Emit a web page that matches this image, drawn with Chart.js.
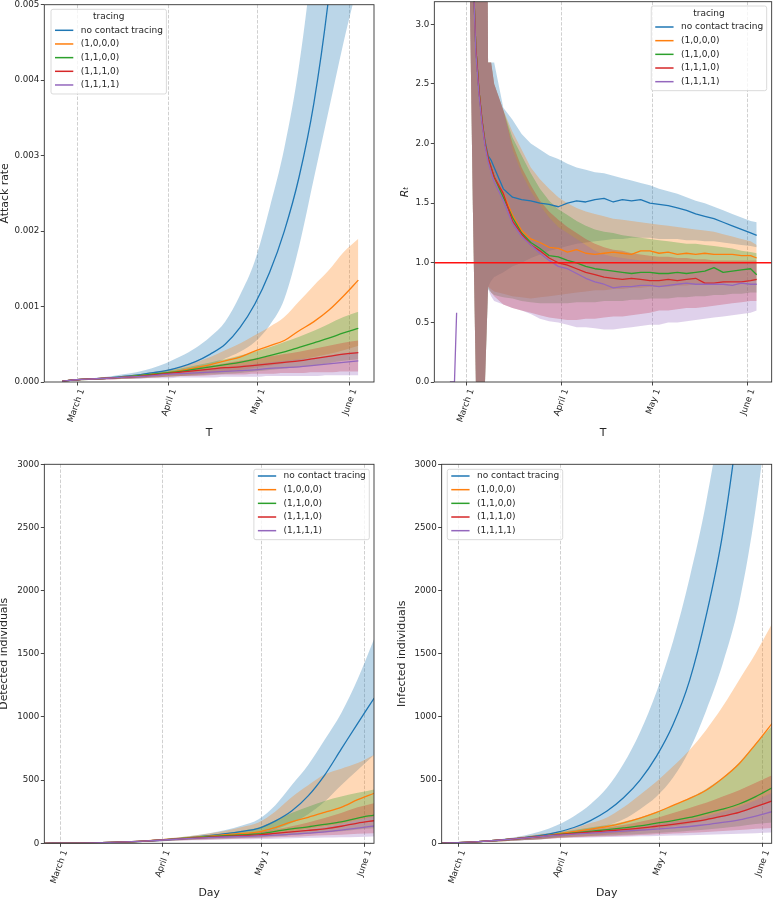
<!DOCTYPE html>
<html><head><meta charset="utf-8">
<script src="https://cdn.jsdelivr.net/npm/chart.js@4.4.1/dist/chart.umd.min.js"></script>
<style>
html,body{margin:0;padding:0;background:#fff;}
#wrap{position:relative;width:773px;height:899px;overflow:hidden;background:#fff;}
.p{position:absolute;}
canvas{display:block;}
</style></head><body>
<div id="wrap">
<div class="p" style="left:0;top:0;width:390px;height:450px"><canvas id="c1" width="390" height="450"></canvas></div>
<div class="p" style="left:390px;top:0;width:383px;height:450px"><canvas id="c2" width="383" height="450"></canvas></div>
<div class="p" style="left:0;top:450px;width:390px;height:449px"><canvas id="c3" width="390" height="449"></canvas></div>
<div class="p" style="left:390px;top:450px;width:383px;height:449px"><canvas id="c4" width="383" height="449"></canvas></div>
</div>
<script>
// ---------- labels & ticks ----------
const seriesLabels = ['no contact tracing', '(1,0,0,0)', '(1,1,0,0)', '(1,1,1,0)', '(1,1,1,1)'];
const seriesColors = ['#1f77b4', '#ff7f0e', '#2ca02c', '#d62728', '#9467bd'];
const bandColors = ['rgba(31,119,180,0.3)', 'rgba(255,127,14,0.3)', 'rgba(44,160,44,0.3)', 'rgba(214,39,40,0.3)', 'rgba(148,103,189,0.3)'];
const dateTickDays = [0, 31, 61, 92];               // days since March 1
const dateTickLabels = ['March 1', 'April 1', 'May 1', 'June 1'];
const attackTicks = [0, 0.001, 0.002, 0.003, 0.004, 0.005];
const attackTickLabels = ['0.000', '0.001', '0.002', '0.003', '0.004', '0.005'];
const rtTicks = [0, 0.5, 1, 1.5, 2, 2.5, 3];
const rtTickLabels = ['0.0', '0.5', '1.0', '1.5', '2.0', '2.5', '3.0'];
const countTicks = [0, 500, 1000, 1500, 2000, 2500, 3000];
const countTickLabels = ['0', '500', '1000', '1500', '2000', '2500', '3000'];
const rtThreshold = 1.0;

// ---------- day grids ----------
const days5 = [-5, 0, 5, 10, 15, 20, 25, 30, 35, 40, 45, 50, 55, 60, 65, 70, 75, 80, 85, 90, 95];
const rtDays = [-5.5, -4, -3.3, -3, 1, 2, 3, 4, 5, 6, 7, 8, 9, 12, 15, 18, 21, 24, 27, 30, 33, 36, 39, 42, 45, 48, 51, 54, 57, 60, 63, 66, 69, 72, 75, 78, 81, 84, 87, 90, 93, 95];

// ---------- Attack rate ----------
const attackMeanNone = [0.00001,0.00003,0.00004,0.00005,0.00007,0.00009,0.00012,0.00015,0.0002,0.00027,0.00037,0.0005,0.00072,0.00103,0.00145,0.002,0.00272,0.0037,0.0051,0.007,0.0096];
const attackUpNone = [0.00002,0.00004,0.00005,0.00007,0.0001,0.00013,0.00018,0.00025,0.00034,0.00045,0.0006,0.0008,0.00115,0.0016,0.0023,0.0031,0.0042,0.0058,0.008,0.011,0.015];
const attackLowNone = [0.00001,0.00002,0.00003,0.00004,0.00005,0.00006,0.00008,0.0001,0.00013,0.00017,0.00022,0.00031,0.0004,0.00053,0.00075,0.0011,0.0018,0.0027,0.0036,0.0045,0.0053];
const attackMean1000 = [0.00001,0.00003,0.00004,0.00005,0.00006,0.00008,0.0001,0.00012,0.00015,0.00019,0.00023,0.00028,0.00033,0.00041,0.00048,0.00055,0.00068,0.0008,0.00095,0.00114,0.00135];
const attackUp1000 = [0.00002,0.00004,0.00005,0.00006,0.00008,0.0001,0.00013,0.00016,0.0002,0.00026,0.00033,0.00042,0.00051,0.00062,0.00073,0.00086,0.00107,0.00128,0.00148,0.00172,0.0019];
const attackLow1000 = [0.00001,0.00002,0.00003,0.00004,0.00004,0.00005,0.00006,0.00007,0.00008,0.0001,0.00012,0.00014,0.00016,0.00019,0.00022,0.00025,0.00029,0.00033,0.00037,0.00042,0.00048];
const attackMean1100 = [0.00001,0.00003,0.00004,0.00005,0.00006,0.00008,0.0001,0.00012,0.00014,0.00017,0.0002,0.00023,0.00026,0.0003,0.00035,0.0004,0.00046,0.00052,0.00058,0.00065,0.00071];
const attackUp1100 = [0.00002,0.00004,0.00005,0.00006,0.00008,0.0001,0.00012,0.00015,0.00018,0.00022,0.00026,0.0003,0.00035,0.0004,0.00046,0.00053,0.0006,0.00068,0.00077,0.00086,0.00093];
const attackLow1100 = [0.00001,0.00002,0.00003,0.00004,0.00004,0.00005,0.00006,0.00007,0.00008,0.00009,0.0001,0.00011,0.00012,0.00014,0.00016,0.00018,0.0002,0.00022,0.00025,0.00028,0.0003];
const attackMean1110 = [0.00001,0.00003,0.00004,0.00005,0.00006,0.00007,0.00009,0.00011,0.00013,0.00015,0.00017,0.00019,0.0002,0.00022,0.00024,0.00026,0.00028,0.00031,0.00034,0.00037,0.00039];
const attackUp1110 = [0.00002,0.00004,0.00005,0.00006,0.00007,0.00009,0.00011,0.00013,0.00016,0.00019,0.00022,0.00025,0.00028,0.00031,0.00034,0.00037,0.0004,0.00044,0.00048,0.00052,0.00055];
const attackLow1110 = [0.00001,0.00002,0.00003,0.00003,0.00004,0.00005,0.00006,0.00007,0.00008,0.00008,0.00009,0.0001,0.0001,0.00011,0.00011,0.00012,0.00012,0.00013,0.00013,0.00014,0.00014];
const attackMean1111 = [0.00001,0.00003,0.00004,0.00005,0.00006,0.00007,0.00008,0.0001,0.00011,0.00012,0.00013,0.00014,0.00015,0.00016,0.00018,0.00019,0.0002,0.00022,0.00024,0.00026,0.00028];
const attackUp1111 = [0.00002,0.00004,0.00005,0.00006,0.00007,0.00008,0.0001,0.00012,0.00014,0.00016,0.00018,0.0002,0.00022,0.00024,0.00026,0.00028,0.0003,0.00032,0.00035,0.00038,0.0004];
const attackLow1111 = [0.00001,0.00002,0.00003,0.00003,0.00004,0.00004,0.00005,0.00005,0.00006,0.00006,0.00006,0.00007,0.00007,0.00007,0.00008,0.00008,0.00008,0.00008,0.00009,0.00009,0.00009];

// ---------- R_t ----------
const rtMeanNone = [null,null,null,null,null,3.5,2.8,2.45,2.2,2.02,1.9,1.86,1.8,1.62,1.55,1.53,1.52,1.5,1.49,1.47,1.5,1.52,1.51,1.53,1.54,1.51,1.53,1.52,1.53,1.5,1.49,1.48,1.46,1.44,1.41,1.39,1.37,1.34,1.31,1.28,1.25,1.23];
const rtUpNone = [null,null,null,null,8,8,8,8,8,8,2.68,2.68,2.68,2.3,2.2,2.08,2.0,1.95,1.9,1.87,1.83,1.8,1.78,1.76,1.75,1.73,1.71,1.69,1.67,1.65,1.62,1.6,1.58,1.55,1.52,1.5,1.47,1.44,1.41,1.38,1.35,1.34];
const rtLowNone = [null,null,null,null,3.3,1.5,0,0,0,0,0.8,0.85,0.88,0.92,0.97,1.0,1.04,1.07,1.1,1.12,1.14,1.16,1.17,1.18,1.19,1.2,1.2,1.21,1.21,1.21,1.2,1.2,1.2,1.19,1.19,1.18,1.18,1.17,1.16,1.15,1.14,1.13];
const rtMean1000 = [null,null,null,null,null,3.5,2.8,2.45,2.2,2.0,1.88,1.8,1.72,1.58,1.4,1.27,1.2,1.17,1.13,1.12,1.09,1.11,1.08,1.07,1.08,1.09,1.08,1.07,1.1,1.1,1.08,1.09,1.07,1.08,1.07,1.08,1.07,1.07,1.07,1.06,1.06,1.04];
const rtUp1000 = [null,null,null,null,8,8,8,8,8,8,2.68,2.68,2.5,2.28,2.1,1.95,1.8,1.7,1.62,1.55,1.5,1.46,1.43,1.41,1.39,1.37,1.36,1.35,1.34,1.33,1.32,1.31,1.3,1.29,1.28,1.27,1.26,1.24,1.22,1.2,1.18,1.15];
const rtLow1000 = [null,null,null,null,3.3,1.5,0,0,0,0,0.8,0.78,0.76,0.74,0.72,0.71,0.7,0.71,0.72,0.73,0.74,0.75,0.76,0.77,0.77,0.78,0.78,0.79,0.79,0.8,0.8,0.8,0.81,0.81,0.82,0.82,0.83,0.83,0.84,0.84,0.85,0.85];
const rtMean1100 = [null,null,null,null,null,3.5,2.8,2.45,2.2,2.0,1.88,1.8,1.72,1.55,1.38,1.25,1.17,1.12,1.06,1.05,1.02,1.0,0.97,0.95,0.94,0.93,0.92,0.91,0.92,0.92,0.91,0.91,0.92,0.91,0.92,0.93,0.96,0.92,0.93,0.94,0.95,0.9];
const rtUp1100 = [null,null,null,null,8,8,8,8,8,8,2.68,2.68,2.5,2.28,2.05,1.9,1.75,1.62,1.52,1.45,1.4,1.35,1.31,1.28,1.26,1.25,1.23,1.22,1.21,1.2,1.19,1.18,1.17,1.16,1.16,1.15,1.14,1.13,1.12,1.1,1.09,1.08];
const rtLow1100 = [null,null,null,null,3.3,1.5,0,0,0,0,0.78,0.75,0.73,0.71,0.7,0.68,0.67,0.66,0.66,0.66,0.66,0.67,0.67,0.67,0.68,0.68,0.68,0.69,0.69,0.7,0.7,0.7,0.71,0.71,0.72,0.72,0.73,0.73,0.74,0.74,0.75,0.75];
const rtMean1110 = [null,null,null,null,null,3.5,2.8,2.45,2.2,2.0,1.88,1.8,1.72,1.58,1.35,1.24,1.15,1.1,1.04,1.0,0.98,0.95,0.92,0.9,0.88,0.87,0.86,0.87,0.86,0.85,0.85,0.86,0.85,0.86,0.87,0.83,0.83,0.84,0.84,0.84,0.85,0.86];
const rtUp1110 = [null,null,null,null,8,8,8,8,8,8,2.68,2.68,2.5,2.28,2.0,1.8,1.65,1.52,1.43,1.36,1.3,1.25,1.2,1.16,1.13,1.11,1.1,1.08,1.07,1.06,1.05,1.05,1.04,1.04,1.03,1.03,1.02,1.02,1.02,1.02,1.02,1.02];
const rtLow1110 = [null,null,null,null,3.3,1.5,0,0,0,0,0.8,0.75,0.72,0.65,0.62,0.6,0.58,0.56,0.54,0.53,0.52,0.52,0.53,0.53,0.54,0.55,0.55,0.56,0.57,0.58,0.6,0.6,0.61,0.62,0.62,0.63,0.64,0.65,0.66,0.67,0.68,0.68];
const rtMean1111 = [0,0,0.58,null,null,3.5,2.76,2.42,2.17,1.98,1.85,1.76,1.68,1.52,1.33,1.22,1.15,1.08,1.02,0.97,0.95,0.91,0.87,0.84,0.82,0.79,0.8,0.8,0.81,0.81,0.8,0.81,0.82,0.83,0.82,0.82,0.82,0.82,0.81,0.83,0.82,0.82];
const rtUp1111 = [null,null,null,null,8,8,8,8,8,8,2.68,2.68,2.5,2.28,1.95,1.75,1.6,1.48,1.38,1.3,1.25,1.2,1.15,1.1,1.07,1.05,1.04,1.03,1.02,1.02,1.01,1.01,1.0,1.0,1.0,1.0,1.0,1.0,1.0,1.0,1.0,1.0];
const rtLow1111 = [null,null,null,null,3.3,1.5,0,0,0,0,0.78,0.72,0.68,0.65,0.62,0.6,0.57,0.53,0.51,0.5,0.48,0.46,0.46,0.45,0.44,0.44,0.45,0.46,0.47,0.48,0.48,0.5,0.5,0.51,0.52,0.53,0.54,0.55,0.56,0.57,0.58,0.6];

// ---------- Detected individuals ----------
const detMeanNone = [0,1,2,4,7,11,16,24,34,46,60,76,95,118,175,255,375,540,745,950,1150];
const detUpNone = [0,2,3,6,10,15,21,31,44,60,80,105,140,190,300,460,620,820,1030,1300,1620];
const detLowNone = [0,0,1,2,4,7,11,17,24,32,42,52,65,80,110,160,230,330,460,580,700];
const detMean1000 = [0,1,2,4,7,11,17,26,36,46,57,68,78,90,125,170,206,245,285,345,396];
const detUp1000 = [0,2,3,6,10,15,22,32,45,60,78,100,130,165,250,365,460,545,590,635,700];
const detLow1000 = [0,0,1,2,4,7,11,18,25,32,38,45,52,58,75,95,115,135,155,185,210];
const detMean1100 = [0,1,2,4,7,11,17,25,34,43,52,60,67,74,95,115,130,150,170,200,224];
const detUp1100 = [0,2,3,5,9,14,21,30,41,53,66,80,100,125,180,240,290,335,370,400,427];
const detLow1100 = [0,0,1,2,4,7,11,17,23,29,34,38,42,46,55,65,75,85,95,110,120];
const detMean1110 = [0,1,2,4,7,11,17,25,33,41,48,55,61,66,78,90,102,115,135,160,179];
const detUp1110 = [0,2,3,5,9,14,20,29,39,48,57,66,76,88,110,135,165,200,240,285,317];
const detLow1110 = [0,0,1,2,4,7,11,17,22,27,31,35,38,41,47,52,58,63,68,75,80];
const detMean1111 = [0,1,2,4,7,11,17,24,32,39,45,50,54,58,64,72,80,90,105,120,137];
const detUp1111 = [0,2,3,5,8,13,20,28,37,45,52,58,64,70,82,95,110,130,155,185,215];
const detLow1111 = [0,0,1,2,4,6,10,15,20,24,27,30,32,34,37,40,43,45,48,50,53];

// ---------- Infected individuals ----------
const infMeanNone = [2,6,12,20,30,44,62,88,125,180,255,360,500,690,940,1290,1800,2450,3400,4700,6500];
const infUpNone = [3,8,15,26,40,62,95,145,215,310,440,630,880,1200,1600,2100,2700,3500,4700,6400,8800];
const infLowNone = [1,4,8,14,20,27,36,50,70,100,140,190,270,370,520,740,1050,1420,1900,2650,3700];
const infMean1000 = [2,6,12,20,30,42,55,74,92,112,133,162,200,245,300,355,420,515,630,785,950];
const infUp1000 = [3,8,15,25,38,55,75,92,120,160,205,285,385,490,610,739,897,1082,1293,1504,1740];
const infLow1000 = [1,4,8,13,19,26,33,42,50,60,70,82,98,115,135,155,180,210,245,290,340];
const infMean1100 = [2,6,12,20,30,42,54,70,82,95,108,122,138,160,180,205,237,270,311,370,440];
const infUp1100 = [3,8,15,25,38,52,70,85,105,125,145,170,205,250,300,360,430,520,640,790,930];
const infLow1100 = [1,4,8,13,19,26,33,45,52,57,62,68,74,82,90,100,110,122,135,152,165];
const infMean1110 = [2,6,12,20,30,42,54,68,78,88,98,108,120,135,150,168,188,215,245,290,335];
const infUp1110 = [3,8,15,25,37,50,66,80,95,110,125,145,170,200,240,280,320,370,420,480,540];
const infLow1110 = [1,4,8,13,19,26,32,42,48,52,56,60,66,72,78,84,90,98,105,115,122];
const infMean1111 = [2,6,12,20,30,42,53,65,73,80,88,96,104,112,122,133,147,165,185,215,250];
const infUp1111 = [3,8,15,24,36,49,64,75,86,95,105,115,130,150,170,190,215,250,290,340,400];
const infLow1111 = [1,4,8,13,18,24,30,40,43,46,49,52,55,58,61,64,68,72,76,80,85];

// ---------- helpers ----------
const FONT = '"DejaVu Sans", "Liberation Sans", sans-serif';
const TXT = '#262626';
function pts(days, vals) { return days.map((d, i) => ({ x: d, y: vals[i] })); }

function buildSets(days, means, lows, ups, smooth) {
  const interp = smooth ? 'monotone' : 'default';
  const ds = [];
  for (let k = 0; k < means.length; k++) {
    ds.push({ label: seriesLabels[k] + ' low', data: pts(days, lows[k]), borderColor: 'rgba(0,0,0,0)', borderWidth: 0,
      pointRadius: 0, fill: false, order: 4 - k, cubicInterpolationMode: interp, spanGaps: false });
    ds.push({ label: seriesLabels[k] + ' band', data: pts(days, ups[k]), borderColor: 'rgba(0,0,0,0)', borderWidth: 0,
      pointRadius: 0, fill: '-1', backgroundColor: bandColors[k], order: 4 - k, cubicInterpolationMode: interp, spanGaps: false });
  }
  for (let k = 0; k < means.length; k++) {
    ds.push({ label: seriesLabels[k], data: pts(days, means[k]), borderColor: seriesColors[k], borderWidth: 1.3,
      pointRadius: 0, fill: false, order: 4 - k, cubicInterpolationMode: interp, spanGaps: false });
  }
  return ds;
}

function xScale(min, max, title, height, padBottom) {
  return {
    type: 'linear', min: min, max: max,
    afterBuildTicks: s => { s.ticks = dateTickDays.map(v => ({ value: v })); },
    afterFit: s => { s.height = height; s.paddingLeft = 0; s.paddingRight = 0; s.paddingTop = 0; s.paddingBottom = 0; },
    ticks: { autoSkip: false, minRotation: 70, maxRotation: 70, padding: 2, labelOffset: 5, color: TXT,
      font: { family: FONT, size: 8.7 }, callback: (v, i) => dateTickLabels[i] },
    grid: { display: true, drawOnChartArea: true, color: '#c4c4c4', lineWidth: 0.8, drawTicks: true,
      tickLength: 3.5, tickColor: '#333', tickWidth: 0.9, tickBorderDash: [] },
    border: { display: false, dash: [3.5, 1.6] },
    title: { display: true, text: title, color: TXT, font: { family: FONT, size: 10.9 }, padding: { top: 0, bottom: padBottom } }
  };
}

function yScale(max, ticks, labels, title, width, padTop, italic) {
  return {
    type: 'linear', min: 0, max: max,
    afterBuildTicks: s => { s.ticks = ticks.map(v => ({ value: v })); },
    afterFit: s => { s.width = width; s.paddingLeft = 0; s.paddingRight = 0; s.paddingTop = 0; s.paddingBottom = 0; },
    ticks: { padding: 1.5, color: TXT, font: { family: FONT, size: 8.7 }, callback: (v, i) => labels[i] },
    grid: { display: true, drawOnChartArea: false, drawTicks: true, tickLength: 3.5, tickColor: '#333', tickWidth: 0.9 },
    border: { display: false },
    title: { display: true, text: title, color: TXT, font: { family: FONT, size: 10.9, style: italic ? 'italic' : 'normal' },
      padding: { top: padTop, bottom: 0 } }
  };
}

const framePlugin = {
  id: 'frame',
  afterDraw(chart) {
    const a = chart.chartArea, ctx = chart.ctx;
    ctx.save();
    ctx.strokeStyle = '#333'; ctx.lineWidth = 0.9;
    ctx.strokeRect(a.left, a.top, a.right - a.left, a.bottom - a.top);
    ctx.restore();
  }
};

const legendPlugin = {
  id: 'mplLegend',
  afterDraw(chart, args, o) {
    if (!o || !o.show) return;
    const ctx = chart.ctx, a = chart.chartArea;
    ctx.save();
    ctx.font = '9px ' + FONT;
    let tw = 0;
    seriesLabels.forEach(s => { tw = Math.max(tw, ctx.measureText(s).width); });
    const rowH = 13.67, first = o.title ? 21 : 6.7;
    const w = 29.7 + tw + 3.5;
    const h = first + rowH * (seriesLabels.length - 1) + 9;
    const x0 = o.corner === 'tl' ? a.left + o.dx : a.right - o.dx - w;
    const y0 = a.top + o.dy;
    const r = 2;
    ctx.beginPath();
    ctx.moveTo(x0 + r, y0); ctx.lineTo(x0 + w - r, y0); ctx.quadraticCurveTo(x0 + w, y0, x0 + w, y0 + r);
    ctx.lineTo(x0 + w, y0 + h - r); ctx.quadraticCurveTo(x0 + w, y0 + h, x0 + w - r, y0 + h);
    ctx.lineTo(x0 + r, y0 + h); ctx.quadraticCurveTo(x0, y0 + h, x0, y0 + h - r);
    ctx.lineTo(x0, y0 + r); ctx.quadraticCurveTo(x0, y0, x0 + r, y0);
    ctx.closePath();
    ctx.fillStyle = 'rgba(255,255,255,0.8)'; ctx.fill();
    ctx.strokeStyle = '#d0d0d0'; ctx.lineWidth = 0.8; ctx.stroke();
    ctx.textBaseline = 'middle';
    ctx.fillStyle = TXT;
    if (o.title) { ctx.textAlign = 'center'; ctx.fillText(o.title, x0 + w / 2, y0 + 7.4); }
    ctx.textAlign = 'left';
    seriesLabels.forEach((s, k) => {
      const y = y0 + first + k * rowH;
      ctx.strokeStyle = seriesColors[k]; ctx.lineWidth = 1.5;
      ctx.beginPath(); ctx.moveTo(x0 + 4, y); ctx.lineTo(x0 + 22.3, y); ctx.stroke();
      ctx.fillStyle = TXT; ctx.fillText(s, x0 + 29.7, y);
    });
    ctx.restore();
  }
};

function makeChart(id, datasets, padding, xs, ys, legend) {
  return new Chart(document.getElementById(id), {
    type: 'line',
    data: { datasets: datasets },
    options: {
      responsive: false, animation: false, events: [],
      layout: { autoPadding: false, padding: padding },
      plugins: { legend: { display: false }, tooltip: { enabled: false },
        filler: { drawTime: 'beforeDatasetsDraw', propagate: false }, mplLegend: legend },
      elements: { point: { radius: 0 }, line: { borderJoinStyle: 'round' } },
      scales: { x: xs, y: ys }
    },
    plugins: [framePlugin, legendPlugin]
  });
}

Chart.defaults.font.family = FONT;

// ---------- Panel 1: Attack rate ----------
makeChart('c1',
  buildSets(days5,
    [attackMeanNone, attackMean1000, attackMean1100, attackMean1110, attackMean1111],
    [attackLowNone, attackLow1000, attackLow1100, attackLow1110, attackLow1111],
    [attackUpNone, attackUp1000, attackUp1100, attackUp1110, attackUp1111], true),
  { left: 0, top: 4.7, right: 16, bottom: 0 },
  xScale(-11.1, 100.3, 'T', 68, 10.5),
  yScale(0.005, attackTicks, attackTickLabels, 'Attack rate', 44.3, -1.5, false),
  { show: true, corner: 'tl', dx: 6.7, dy: 4.6, title: 'tracing' });

// ---------- Panel 2: R_t ----------
const rtXMin = -10.6, rtXMax = 99.9;
const rtSets = buildSets(rtDays,
  [rtMeanNone, rtMean1000, rtMean1100, rtMean1110, rtMean1111],
  [rtLowNone, rtLow1000, rtLow1100, rtLow1110, rtLow1111],
  [rtUpNone, rtUp1000, rtUp1100, rtUp1110, rtUp1111], false);
rtSets.push({ label: 'threshold', data: [{ x: rtXMin, y: rtThreshold }, { x: rtXMax, y: rtThreshold }],
  borderColor: '#ff1010', borderWidth: 1.4, pointRadius: 0, fill: false, order: -1 });
makeChart('c2', rtSets,
  { left: 0, top: 1.7, right: 1.33, bottom: 0 },
  xScale(rtXMin, rtXMax, 'T', 68, 10.5),
  yScale(3.19, rtTicks, rtTickLabels, 'R\u209C', 44.33, 8.5, true),
  { show: true, corner: 'tr', dx: 5, dy: 4.3, title: 'tracing' });

// ---------- Panel 3: Detected ----------
makeChart('c3',
  buildSets(days5,
    [detMeanNone, detMean1000, detMean1100, detMean1110, detMean1111],
    [detLowNone, detLow1000, detLow1100, detLow1110, detLow1111],
    [detUpNone, detUp1000, detUp1100, detUp1110, detUp1111], true),
  { left: 0, top: 14.3, right: 16, bottom: 0 },
  xScale(-4.84, 94.93, 'Day', 55.7, -0.8),
  yScale(3000, countTicks, countTickLabels, 'Detected individuals', 44.33, -2, false),
  { show: true, corner: 'tr', dx: 4.7, dy: 5, title: null });

// ---------- Panel 4: Infected ----------
makeChart('c4',
  buildSets(days5,
    [infMeanNone, infMean1000, infMean1100, infMean1110, infMean1111],
    [infLowNone, infLow1000, infLow1100, infLow1110, infLow1111],
    [infUpNone, infUp1000, infUp1100, infUp1110, infUp1111], true),
  { left: 0, top: 14.3, right: 1.33, bottom: 0 },
  xScale(-5.04, 94.84, 'Day', 55.7, -0.8),
  yScale(3000, countTicks, countTickLabels, 'Infected individuals', 51.67, 5.8, false),
  { show: true, corner: 'tl', dx: 5.6, dy: 5, title: null });
</script>
</body></html>
